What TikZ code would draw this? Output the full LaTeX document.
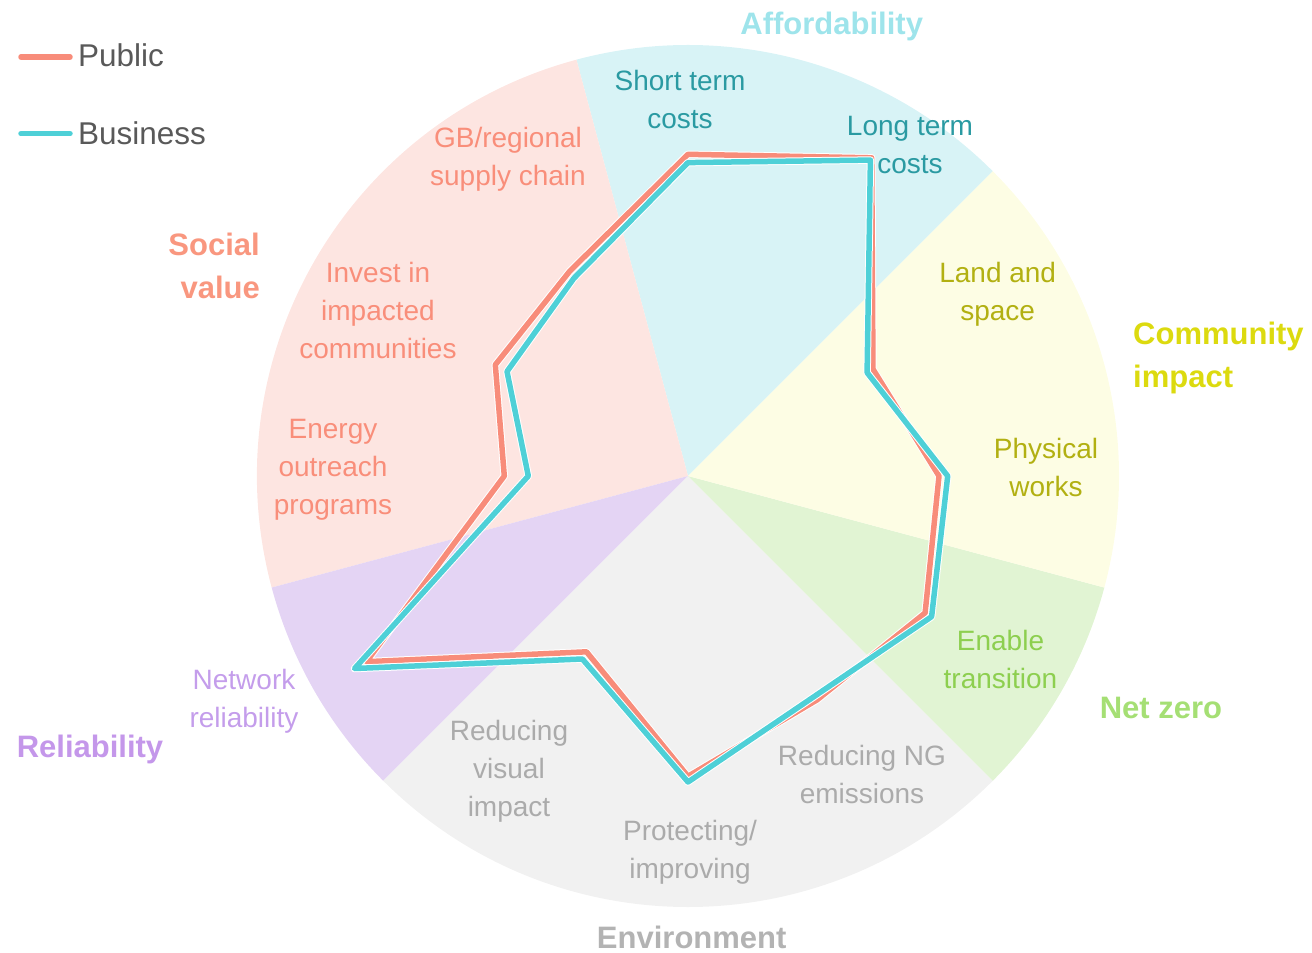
\documentclass[tikz,border=0pt]{standalone}
\usepackage{fontspec}
\setmainfont{Liberation Sans}
\definecolor{pubc}{HTML}{F88C7A}
\definecolor{busc}{HTML}{4ED0D7}
\definecolor{legc}{HTML}{595959}
\definecolor{affbg}{HTML}{D8F3F6}
\definecolor{afft}{HTML}{9EE4EB}
\definecolor{affl}{HTML}{2A9AA2}
\definecolor{socbg}{HTML}{FDE5E1}
\definecolor{soct}{HTML}{F9977F}
\definecolor{socl}{HTML}{F98E7A}
\definecolor{combg}{HTML}{FDFDE4}
\definecolor{comt}{HTML}{DCDA0F}
\definecolor{coml}{HTML}{B2B012}
\definecolor{netbg}{HTML}{E1F4D3}
\definecolor{nett}{HTML}{A5DF74}
\definecolor{netl}{HTML}{8DCF4F}
\definecolor{envbg}{HTML}{F1F1F1}
\definecolor{envt}{HTML}{B3B3B3}
\definecolor{envl}{HTML}{ABABAB}
\definecolor{relbg}{HTML}{E4D4F4}
\definecolor{relt}{HTML}{C497EA}
\definecolor{rell}{HTML}{C49DEB}
\begin{document}
\begin{tikzpicture}[x=1pt,y=1pt,
  axlab/.style={font=\fontsize{28}{38}\selectfont, align=center, anchor=north, inner sep=0pt, yshift=-1.5pt},
  catlab/.style={font=\fontsize{31}{43}\selectfont\bfseries, inner sep=0pt, yshift=-1.5pt},
  leglab/.style={font=\fontsize{31.5}{38}\selectfont, text=legc, anchor=base west, inner sep=0pt},
  halo/.style={draw=white, line width=7.5pt, line join=round},
  publine/.style={draw=pubc, line width=5.5pt, line join=round},
  busline/.style={draw=busc, line width=5.5pt, line join=round},
  legline/.style={line width=5.5pt, line cap=round}]
\useasboundingbox (0,-953) rectangle (1312,0);
\coordinate (c) at (688,-476);
% sectors
\fill[affbg] (c) -- ++(45:431) arc[start angle=45, end angle=105, radius=431] -- cycle;
\fill[socbg] (c) -- ++(105:431) arc[start angle=105, end angle=195, radius=431] -- cycle;
\fill[relbg] (c) -- ++(195:431) arc[start angle=195, end angle=225, radius=431] -- cycle;
\fill[envbg] (c) -- ++(225:431) arc[start angle=225, end angle=315, radius=431] -- cycle;
\fill[netbg] (c) -- ++(-45:431) arc[start angle=-45, end angle=-15, radius=431] -- cycle;
\fill[combg] (c) -- ++(-15:431) arc[start angle=-15, end angle=45, radius=431] -- cycle;
% axis labels
\node[axlab, text=affl] (l1) at (680,-61.7) {\strut Short term\\\strut costs};
\node[axlab, text=affl] (l2) at (910,-106.7) {\strut Long term\\\strut costs};
\node[axlab, text=coml] (l3) at (997.7,-254.1) {\strut Land and\\\strut space};
\node[axlab, text=coml] (l4) at (1046,-430.1) {\strut Physical\\\strut works};
\node[axlab, text=netl] (l5) at (1000.5,-621.7) {\strut Enable\\\strut transition};
\node[axlab, text=envl] (l6) at (862,-736.9) {\strut Reducing NG\\\strut emissions};
\node[axlab, text=envl] (l7) at (690,-811.7) {\strut Protecting/\\\strut improving};
\node[axlab, text=envl] (l8) at (509,-712.4) {\strut Reducing\\\strut visual\\\strut impact};
\node[axlab, text=rell] (l9) at (244,-661.4) {\strut Network\\\strut reliability};
\node[axlab, text=socl] (l10) at (333,-410.4) {\strut Energy\\\strut outreach\\\strut programs};
\node[axlab, text=socl] (l11) at (378,-253.9) {\strut Invest in\\\strut impacted\\\strut communities};
\node[axlab, text=socl] (l12) at (508,-119.4) {\strut GB/regional\\\strut supply chain};
% category labels
\node[catlab, text=afft, anchor=base] (cA) at (831.7,-33) {Affordability};
\node[catlab, text=envt, anchor=base] (cE) at (691.7,-946.7) {Environment};
\node[catlab, text=relt, anchor=base] (cR) at (90,-756) {Reliability};
\node[catlab, text=nett, anchor=base] (cN) at (1161,-717) {Net zero};
\node[catlab, text=comt, anchor=north west, align=left] (cC) at (1133,-312.9) {\strut Community\\\strut impact};
\node[catlab, text=soct, anchor=north east, align=right] (cS) at (260,-223.2) {\strut Social\\\strut value};
% data points
\foreach \a/\r [count=\i] in {90/321.7, 60/367.4, 30/213.6, 0/251, -30/273.8, -60/258.4, -90/300.3, -120/203, -150/371.4, 180/183.7, 150/222.5, 120/236.5}
  {\path (c) ++(\a:\r) coordinate (P\i);}
\foreach \a/\r [count=\i] in {90/313.4, 60/364.8, 30/206.8, 0/259.7, -30/281.3, -60/254, -90/306, -120/211.3, -150/385, 180/159.7, 150/209, 120/228.3}
  {\path (c) ++(\a:\r) coordinate (B\i);}
\draw[halo] (P1) -- (P2) -- (P3) -- (P4) -- (P5) -- (P6) -- (P7) -- (P8) -- (P9) -- (P10) -- (P11) -- (P12) -- cycle;
\draw[publine] (P1) -- (P2) -- (P3) -- (P4) -- (P5) -- (P6) -- (P7) -- (P8) -- (P9) -- (P10) -- (P11) -- (P12) -- cycle;
\draw[halo] (B1) -- (B2) -- (B3) -- (B4) -- (B5) -- (B6) -- (B7) -- (B8) -- (B9) -- (B10) -- (B11) -- (B12) -- cycle;
\draw[busline] (B1) -- (B2) -- (B3) -- (B4) -- (B5) -- (B6) -- (B7) -- (B8) -- (B9) -- (B10) -- (B11) -- (B12) -- cycle;
% legend
\node[leglab] (lp) at (78,-66.7) {Public};
\node[leglab] (lb) at (78,-144) {Business};
\draw[legline, pubc] ([xshift=-57pt,yshift=-1.5pt]lp.west) -- ([xshift=-8pt,yshift=-1.5pt]lp.west);
\draw[legline, busc] ([xshift=-57pt,yshift=-1pt]lb.west) -- ([xshift=-8pt,yshift=-1pt]lb.west);
\end{tikzpicture}
\end{document}
